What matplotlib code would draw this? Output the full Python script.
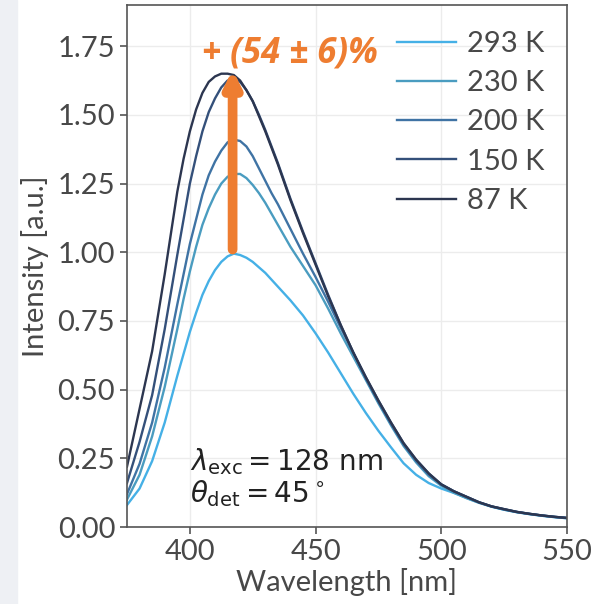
import numpy as np
import matplotlib
matplotlib.use('Agg')
from matplotlib import pyplot as plt
from matplotlib.patches import Rectangle

# Длины волн (нм)
wl = [375, 380, 385, 390, 395, 397.5, 400, 402.5, 405, 407.5, 410, 412.5, 415, 417.5,
      420, 422.5, 425, 427.5, 430, 432.5, 435, 437.5, 440, 445, 450, 455, 460, 465,
      470, 475, 480, 485, 490, 495, 500, 505, 510, 515, 520, 525, 530, 535, 540, 545, 550]

# Спектры при разных температурах
i_293 = [0.08, 0.14, 0.24, 0.38, 0.55, 0.63, 0.71, 0.78, 0.845, 0.895, 0.935, 0.965, 0.985, 0.995,
         0.99, 0.98, 0.965, 0.945, 0.925, 0.90, 0.875, 0.85, 0.825, 0.77, 0.705, 0.635, 0.56, 0.485,
         0.415, 0.35, 0.29, 0.232, 0.19, 0.16, 0.14, 0.124, 0.106, 0.089, 0.074, 0.063, 0.054, 0.047,
         0.041, 0.036, 0.032]
i_230 = [0.10, 0.19, 0.33, 0.51, 0.72, 0.83, 0.93, 1.02, 1.10, 1.16, 1.21, 1.25, 1.275, 1.285,
         1.285, 1.27, 1.245, 1.215, 1.18, 1.14, 1.10, 1.06, 1.02, 0.95, 0.88, 0.795, 0.705, 0.62,
         0.535, 0.45, 0.37, 0.295, 0.235, 0.185, 0.15, 0.125, 0.105, 0.088, 0.074, 0.063, 0.054, 0.047,
         0.041, 0.036, 0.032]
i_200 = [0.12, 0.23, 0.38, 0.58, 0.81, 0.92, 1.03, 1.12, 1.21, 1.28, 1.33, 1.37, 1.40, 1.41,
         1.405, 1.385, 1.35, 1.305, 1.26, 1.215, 1.175, 1.13, 1.085, 0.995, 0.91, 0.82, 0.725, 0.635,
         0.54, 0.455, 0.375, 0.30, 0.24, 0.19, 0.155, 0.13, 0.11, 0.09, 0.075, 0.064, 0.055, 0.048,
         0.042, 0.037, 0.033]
i_150 = [0.16, 0.31, 0.48, 0.72, 0.99, 1.12, 1.25, 1.35, 1.44, 1.51, 1.56, 1.60, 1.625, 1.63,
         1.62, 1.59, 1.55, 1.50, 1.445, 1.385, 1.325, 1.26, 1.195, 1.075, 0.96, 0.845, 0.735, 0.635,
         0.545, 0.46, 0.38, 0.305, 0.245, 0.195, 0.155, 0.13, 0.11, 0.09, 0.075, 0.065, 0.055, 0.048,
         0.042, 0.037, 0.033]
i_87 = [0.22, 0.43, 0.64, 0.92, 1.22, 1.34, 1.44, 1.52, 1.58, 1.62, 1.64, 1.65, 1.65, 1.645,
        1.625, 1.59, 1.55, 1.495, 1.44, 1.38, 1.32, 1.255, 1.19, 1.07, 0.955, 0.84, 0.735, 0.635,
        0.545, 0.46, 0.38, 0.305, 0.245, 0.195, 0.155, 0.13, 0.11, 0.09, 0.075, 0.065, 0.055, 0.048,
        0.042, 0.037, 0.033]

labels = ['293 K', '230 K', '200 K', '150 K', '87 K']
spectra = [i_293, i_230, i_200, i_150, i_87]
colors = ['#45b0e6', '#4a9cc0', '#3f73a4', '#34507a', '#2c3650']

x_ticks = [400, 450, 500, 550]
y_ticks = [0.0, 0.25, 0.5, 0.75, 1.0, 1.25, 1.5, 1.75]

plt.rcParams['font.family'] = ['Lato', 'DejaVu Sans']
plt.rcParams['mathtext.fontset'] = 'dejavusans'
txt_col = '#484848'

fig = plt.figure(figsize=(5.97, 6.04), dpi=100)
# Серая полоса слева (фон скриншота)
fig.patches.append(Rectangle((0, 0), 17 / 597, 1, transform=fig.transFigure,
                             color='#eef0f4', zorder=-1))
ax = fig.add_axes([127 / 597, 1 - 527 / 604, 440 / 597, 522 / 604])

for y, c, lab in zip(spectra, colors, labels):
    ax.plot(wl, y, color=c, lw=1.7, label=lab)

ax.set_xlim(375, 550)
ax.set_ylim(0, 1.9)
ax.set_xticks(x_ticks)
ax.set_yticks(y_ticks)
ax.set_yticklabels([f'{v:.2f}' for v in y_ticks])
ax.grid(True, color='#ececec', lw=1)
ax.set_axisbelow(True)

for s in ax.spines.values():
    s.set_color('#555555')
    s.set_linewidth(1.2)
ax.tick_params(direction='out', length=5, width=1.2, color='#555555',
               labelsize=21, labelcolor=txt_col)

ax.set_xlabel('Wavelength [nm]', fontsize=21, color=txt_col, labelpad=2)
ax.set_ylabel('Intensity [a.u.]', fontsize=21, color=txt_col, labelpad=6)

leg = ax.legend(loc='upper left', bbox_to_anchor=(0.555, 1.0), frameon=False,
                fontsize=21, handlelength=2.0, handletextpad=0.4, labelspacing=0.45)
for t in leg.get_texts():
    t.set_color(txt_col)

# Стрелка роста интенсивности
ax.annotate('', xy=(417, 1.665), xytext=(417, 1.01),
            arrowprops=dict(arrowstyle='-|>,head_width=0.45,head_length=0.9',
                            color='#ee7d31', lw=7, shrinkA=0, shrinkB=0))
ax.text(440, 1.725, '+ (54 ± 6)%', color='#ee7d31', fontsize=25, fontweight='bold',
        fontstyle='italic', family=['Open Sans', 'DejaVu Sans'], ha='center', va='center')

ax.text(400, 0.18, r'$\lambda_\mathrm{exc} = 128$ nm' + '\n' + r'$\theta_\mathrm{det} = 45^\circ$',
        fontsize=20, color='#222222', family=['DejaVu Sans'], ha='left', va='center',
        linespacing=1.05)

fig.savefig('out.png', dpi=100)
